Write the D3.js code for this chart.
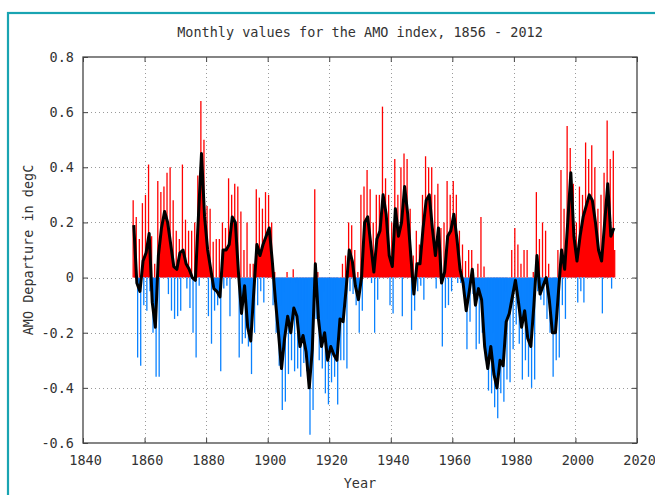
<!DOCTYPE html>
<html>
<head>
<meta charset="utf-8">
<script src="https://cdn.jsdelivr.net/npm/d3@7"></script>
<style>
  html, body { margin: 0; padding: 0; background: #fff; }
  svg { display: block; }
  text { font-family: "DejaVu Sans Mono", "Liberation Mono", monospace; font-size: 13.5px; fill: #333; }
</style>
</head>
<body>
<svg id="chart" width="655" height="495"></svg>
<script>
// ---------------- data ----------------
const startYear = 1856;
// smoothed AMO (black line), one value per year 1856..2012
const smooth = [
 0.19,-0.02,-0.05,0.06,0.09,0.16,-0.09,-0.18,0.08,0.18,   // 1856-1865
 0.24,0.20,0.12,0.04,0.03,0.09,0.10,0.05,0.03,0.00,       // 1866-1875
 -0.01,0.22,0.45,0.22,0.10,0.03,-0.04,-0.05,-0.07,0.10,   // 1876-1885
 0.10,0.12,0.22,0.20,0.02,-0.13,-0.03,-0.18,-0.23,-0.05,  // 1886-1895
 0.12,0.08,0.12,0.15,0.18,0.06,-0.08,-0.20,-0.33,-0.22,   // 1896-1905
 -0.14,-0.20,-0.11,-0.14,-0.25,-0.21,-0.27,-0.40,-0.26,0.05, // 1906-1915
 -0.15,-0.25,-0.20,-0.30,-0.25,-0.28,-0.30,-0.15,-0.16,-0.04, // 1916-1925
 0.10,0.06,-0.03,-0.08,0.00,0.20,0.22,0.12,0.02,0.14,     // 1926-1935
 0.17,0.30,0.23,0.08,0.04,0.25,0.15,0.20,0.33,0.23,       // 1936-1945
 0.08,-0.06,0.05,0.05,0.18,0.28,0.30,0.18,0.08,0.18,      // 1946-1955
 -0.02,0.02,0.15,0.17,0.23,0.14,0.03,-0.02,-0.12,-0.05,   // 1956-1965
 0.03,-0.10,-0.04,-0.08,-0.25,-0.33,-0.25,-0.35,-0.40,-0.30, // 1966-1975
 -0.32,-0.16,-0.13,-0.07,-0.01,-0.09,-0.18,-0.12,-0.22,-0.25, // 1976-1985
 -0.10,0.08,-0.06,-0.03,0.00,-0.08,-0.20,-0.20,-0.05,0.10, // 1986-1995
 0.03,0.20,0.38,0.15,0.06,0.15,0.22,0.26,0.30,0.28,       // 1996-2005
 0.20,0.10,0.06,0.20,0.34,0.15,0.18                       // 2006-2012
];
// highest monthly value in each year
const monthlyHigh = [
 0.28,0.22,0.14,0.27,0.30,0.41,0.15,0.05,0.35,0.31,
 0.33,0.38,0.40,0.28,0.17,0.14,0.41,0.21,0.17,0.17,
 0.20,0.37,0.64,0.50,0.26,0.25,0.13,0.14,0.14,0.20,
 0.18,0.36,0.30,0.34,0.33,0.24,0.10,0.20,0.05,0.05,
 0.32,0.29,0.25,0.31,0.30,0.20,0.02,-0.05,-0.10,-0.05,
 0.02,-0.02,0.03,-0.02,-0.10,-0.08,-0.12,-0.22,-0.10,0.32,
 0.02,-0.10,-0.05,-0.15,-0.10,-0.12,-0.12,0.00,0.05,0.08,
 0.20,0.19,0.10,0.02,0.30,0.33,0.39,0.32,0.20,0.30,
 0.30,0.62,0.36,0.30,0.20,0.43,0.30,0.40,0.45,0.43,
 0.25,0.08,0.17,0.12,0.30,0.44,0.40,0.40,0.30,0.34,
 0.18,0.20,0.35,0.30,0.35,0.30,0.17,0.12,0.06,0.10,
 0.10,0.00,0.05,0.22,0.04,-0.15,-0.10,-0.20,-0.25,-0.18,
 -0.20,-0.05,0.00,0.10,0.18,0.12,0.05,0.10,0.10,-0.05,
 0.02,0.31,0.14,0.20,0.17,0.05,0.00,-0.05,0.10,0.39,
 0.25,0.55,0.47,0.34,0.20,0.33,0.30,0.49,0.43,0.48,
 0.40,0.25,0.30,0.38,0.57,0.43,0.46
];
// lowest monthly value in each year
const monthlyLow = [
 0.05,-0.29,-0.32,-0.10,-0.12,-0.05,-0.20,-0.36,-0.36,0.02,
 0.08,-0.06,-0.12,-0.15,-0.14,-0.12,0.00,-0.04,-0.11,-0.20,
 -0.29,-0.03,0.25,0.02,-0.14,-0.24,-0.12,-0.10,-0.34,-0.04,
 -0.03,-0.14,0.05,0.05,-0.29,-0.24,-0.22,-0.25,-0.35,-0.20,
 -0.10,-0.05,-0.09,0.02,0.04,-0.10,-0.20,-0.32,-0.48,-0.45,
 -0.35,-0.30,-0.34,-0.33,-0.36,-0.31,-0.34,-0.57,-0.48,-0.15,
 -0.30,-0.33,-0.42,-0.46,-0.38,-0.36,-0.46,-0.30,-0.30,-0.33,
 -0.05,-0.06,-0.10,-0.20,-0.12,0.02,0.05,-0.02,-0.20,-0.08,
 0.02,0.10,0.06,-0.10,-0.13,0.05,0.00,-0.14,0.12,0.05,
 -0.19,-0.12,-0.05,-0.03,-0.08,0.08,0.10,0.02,-0.04,0.02,
 -0.25,-0.11,-0.10,-0.05,0.05,-0.02,-0.02,-0.05,-0.26,-0.16,
 -0.06,-0.26,-0.24,-0.20,-0.30,-0.41,-0.42,-0.47,-0.51,-0.42,
 -0.45,-0.37,-0.38,-0.26,-0.17,-0.24,-0.37,-0.30,-0.36,-0.40,
 -0.37,-0.05,-0.08,-0.10,-0.15,-0.20,-0.36,-0.30,-0.29,-0.10,
 -0.15,0.02,0.15,0.02,-0.09,-0.05,-0.09,0.10,0.15,0.15,
 0.08,0.00,-0.13,0.02,0.15,-0.04,0.10
];
const xTicks = [1840,1860,1880,1900,1920,1940,1960,1980,2000,2020];
const yTicks = [-0.6,-0.4,-0.2,0,0.2,0.4,0.6,0.8];
const yTickLabels = ["-0.6","-0.4","-0.2","0","0.2","0.4","0.6","0.8"];
const titleText = "Monthly values for the AMO index, 1856 - 2012";
const xLabel = "Year";
const yLabel = "AMO Departure in degC";

// ---------------- layout ----------------
const svg = d3.select("#chart");
const L = 83, R = 637, T = 57, B = 443;
const x = d3.scaleLinear().domain([1840, 2020]).range([L, R]);
const y = d3.scaleLinear().domain([-0.6, 0.8]).range([B, T]);

const RED = "#ff0000", BLUE = "#0a82ff";

// outer teal border
svg.append("rect").attr("x", 8).attr("y", 13).attr("width", 800).attr("height", 800)
  .attr("fill", "none").attr("stroke", "#19a4b2").attr("stroke-width", 2.2);

// title
svg.append("text").attr("x", (L + R) / 2).attr("y", 37).attr("text-anchor", "middle").text(titleText);

// grid
const grid = svg.append("g").attr("stroke", "#9a9a9a").attr("stroke-width", 1).attr("stroke-dasharray", "1,3");
xTicks.filter(v => v > 1840 && v < 2020).forEach(v => {
  grid.append("line").attr("x1", Math.round(x(v)) + 0.5).attr("x2", Math.round(x(v)) + 0.5).attr("y1", T).attr("y2", B);
});
yTicks.filter(v => v > -0.6 && v < 0.8).forEach(v => {
  grid.append("line").attr("y1", Math.round(y(v)) + 0.5).attr("y2", Math.round(y(v)) + 0.5).attr("x1", L).attr("x2", R);
});

// data
const years = smooth.map((d, i) => startYear + i);
const rows = years.map((yr, i) => ({ year: yr, s: smooth[i], hi: monthlyHigh[i], lo: monthlyLow[i] }));

const defs = svg.append("defs");
defs.append("clipPath").attr("id", "above").append("rect")
  .attr("x", L).attr("y", T).attr("width", R - L).attr("height", y(0) - T);
defs.append("clipPath").attr("id", "below").append("rect")
  .attr("x", L).attr("y", y(0)).attr("width", R - L).attr("height", B - y(0));

const area = d3.area().x(d => x(d.year + 0.5)).y0(y(0)).y1(d => y(d.s));
svg.append("path").datum(rows).attr("d", area).attr("fill", RED).attr("clip-path", "url(#above)");
svg.append("path").datum(rows).attr("d", area).attr("fill", BLUE).attr("clip-path", "url(#below)");

// monthly extremes as spikes from zero
const spikes = [];
rows.forEach(r => {
  spikes.push({ t: r.year + 0.3, v: r.hi });
  spikes.push({ t: r.year + 0.75, v: r.lo });
});
svg.append("g").selectAll("line").data(spikes).join("line")
  .attr("x1", d => x(d.t)).attr("x2", d => x(d.t))
  .attr("y1", y(0)).attr("y2", d => y(d.v))
  .attr("stroke", d => d.v >= 0 ? RED : BLUE)
  .attr("stroke-width", 1.3);

// smoothed line
const line = d3.line().x(d => x(d.year + 0.5)).y(d => y(d.s));
svg.append("path").datum(rows).attr("d", line).attr("fill", "none")
  .attr("stroke", "#000").attr("stroke-width", 3).attr("stroke-linejoin", "round");

// axes (inward, mirrored ticks)
const tk = 5;
const gB = svg.append("g").attr("transform", `translate(0,${B})`)
  .call(d3.axisBottom(x).tickValues(xTicks).tickSize(-tk).tickPadding(12).tickFormat(d3.format("d")));
const gT = svg.append("g").attr("transform", `translate(0,${T})`)
  .call(d3.axisTop(x).tickValues(xTicks).tickSize(-tk).tickFormat(""));
const gL = svg.append("g").attr("transform", `translate(${L},0)`)
  .call(d3.axisLeft(y).tickValues(yTicks).tickSize(-tk).tickPadding(9).tickFormat((d, i) => yTickLabels[i]));
const gR = svg.append("g").attr("transform", `translate(${R},0)`)
  .call(d3.axisRight(y).tickValues(yTicks).tickSize(-tk).tickFormat(""));
[gB, gT, gL, gR].forEach(g => {
  g.select(".domain").remove();
  g.selectAll(".tick line").attr("stroke", "#444");
  g.selectAll("text").attr("font-family", null).attr("font-size", null).attr("fill", "#333");
});
gB.selectAll("text").attr("dx", 2);

// frame
svg.append("rect").attr("x", L).attr("y", T).attr("width", R - L).attr("height", B - T)
  .attr("fill", "none").attr("stroke", "#444").attr("stroke-width", 1.3);

// axis labels
svg.append("text").attr("x", (L + R) / 2).attr("y", 488).attr("text-anchor", "middle").text(xLabel);
svg.append("text").attr("transform", `translate(33,${(T + B) / 2}) rotate(-90)`)
  .attr("text-anchor", "middle").text(yLabel);
</script>
</body>
</html>
